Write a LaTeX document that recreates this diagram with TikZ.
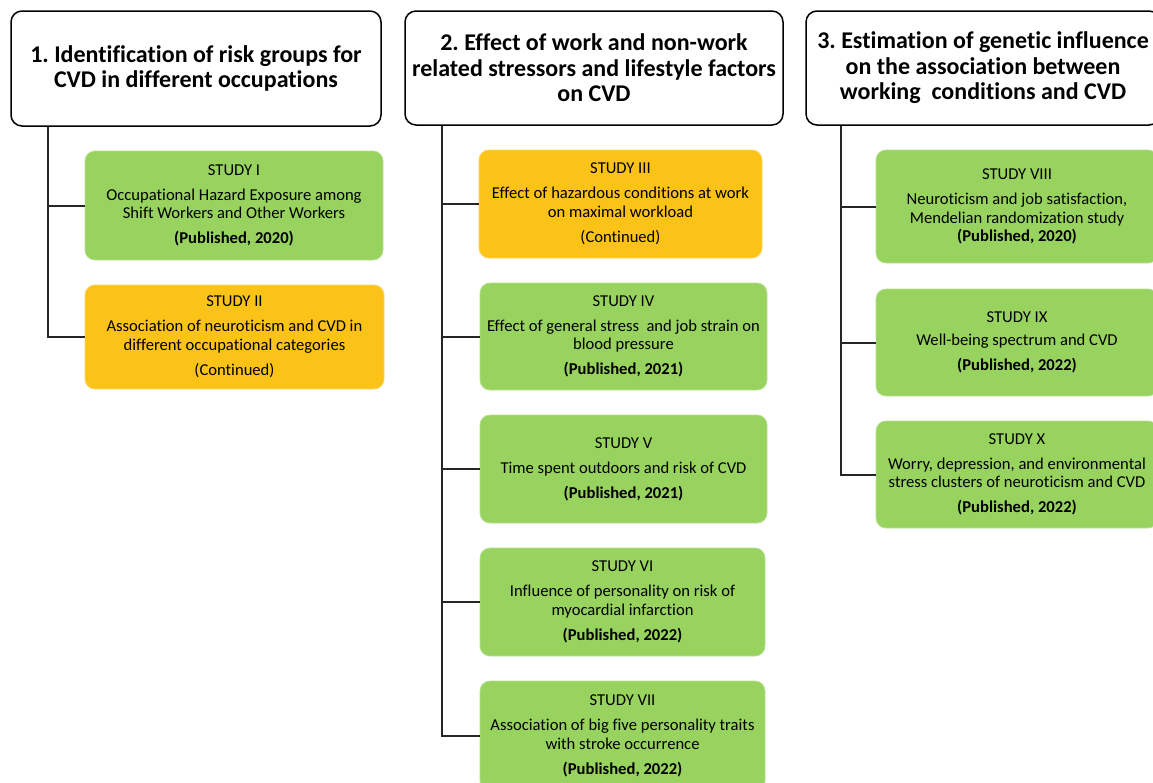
\documentclass[tikz,border=0pt]{standalone}
\usepackage{fontspec}
\setmainfont{Carlito}[Ligatures=NoCommon]
\frenchspacing
\definecolor{sgreen}{HTML}{97D35E}
\definecolor{sorange}{HTML}{FBC318}
\tikzset{
  header/.style={draw=black, line width=1.5pt, rounded corners=11pt, fill=white, align=center,
     font=\fontsize{24}{25.5}\selectfont\bfseries, inner sep=0pt},
  studybox/.style={rounded corners=10pt, line width=0.8pt, align=center, inner sep=0pt,
     font=\fontsize{16.6}{18.5}\selectfont},
  gbox/.style={studybox, fill=sgreen, draw=sgreen!70!white},
  obox/.style={studybox, fill=sorange, draw=sorange!70!white},
  conn/.style={draw=black!85, line width=2pt},
}
\newcommand{\pub}[1]{\textbf{(Published, #1)}}
\begin{document}
\begin{tikzpicture}[x=1pt,y=-1pt]
\useasboundingbox (0,0) rectangle (1153,782);
\clip (0,0) rectangle (1153,782);
\fill[white] (0,0) rectangle (1153,782);

% headers
\node[header, minimum width=370pt, minimum height=115pt] (h1) at (196,68.5)
  {1. Identification of risk groups for\\CVD in different occupations};
\node[header, minimum width=378pt, minimum height=114pt] (h2) at (594,68)
  {2. Effect of work and non-work\\related stressors and lifestyle factors\\on CVD};
\node[header, minimum width=354pt, minimum height=114pt] (h3) at (983,68)
  {3. Estimation of genetic influence\\on the association between\\working\ \ conditions and CVD};

% column 1
\node[gbox, minimum width=298pt, minimum height=109pt] (s1) at (234,205.5)
  {STUDY I\\[6.5pt]Occupational Hazard Exposure among\\Shift Workers and Other Workers\\[6.5pt]\pub{2020}};
\node[obox, minimum width=299pt, minimum height=104pt] (s2) at (234.5,337)
  {STUDY II\\[6.5pt]Association of neuroticism and CVD in\\different occupational categories\\[6.5pt](Continued)};

% column 2
\node[obox, minimum width=283pt, minimum height=108pt] (s3) at (620.5,204)
  {STUDY III\\[6.5pt]Effect of hazardous conditions at work\\on maximal workload\\[6.5pt](Continued)};
\node[gbox, minimum width=287pt, minimum height=107pt] (s4) at (623.5,336.5)
  {STUDY IV\\[6.5pt]Effect of general stress\ \ and job strain on\\blood pressure\\[6.5pt]\pub{2021}};
\node[gbox, minimum width=287pt, minimum height=108pt] (s5) at (623.5,469)
  {STUDY V\\[6.5pt]Time spent outdoors and risk of CVD\\[6.5pt]\pub{2021}};
\node[gbox, minimum width=285pt, minimum height=108pt] (s6) at (622.5,602)
  {STUDY VI\\[6.5pt]Influence of personality on risk of\\myocardial infarction\\[6.5pt]\pub{2022}};
\node[gbox, minimum width=285pt, minimum height=110pt] (s7) at (622.5,736)
  {STUDY VII\\[6.5pt]Association of big five personality traits\\with stroke occurrence\\[6.5pt]\pub{2022}};

% column 3
\node[gbox, minimum width=282pt, minimum height=113pt] (s8) at (1017,206.5)
  {STUDY VIII\\[6.5pt]Neuroticism and job satisfaction,\\Mendelian randomization study\\\pub{2020}};
\node[gbox, minimum width=282pt, minimum height=107pt] (s9) at (1017,342.5)
  {STUDY IX\\[5pt]Well-being spectrum and CVD\\[6.5pt]\pub{2022}};
\node[gbox, minimum width=282pt, minimum height=107pt] (s10) at (1017,474.5)
  {STUDY X\\[6.5pt]Worry, depression, and environmental\\stress clusters of neuroticism and CVD\\[6.5pt]\pub{2022}};

% connectors
\coordinate (v1) at (48,0);
\coordinate (v2) at (442,0);
\coordinate (v3) at (841,0);
\draw[conn] (v1 |- h1.south) |- (s2.west);
\draw[conn] (v1 |- s1.west) -- (s1.west);
\draw[conn] (v2 |- h2.south) |- (s7.west);
\draw[conn] (v2 |- s3.west) -- (s3.west);
\draw[conn] (v2 |- s4.west) -- (s4.west);
\draw[conn] (v2 |- s5.west) -- (s5.west);
\draw[conn] (v2 |- s6.west) -- (s6.west);
\draw[conn] (v3 |- h3.south) |- (s10.west);
\draw[conn] (v3 |- s8.west) -- (s8.west);
\draw[conn] (v3 |- s9.west) -- (s9.west);
\end{tikzpicture}
\end{document}
